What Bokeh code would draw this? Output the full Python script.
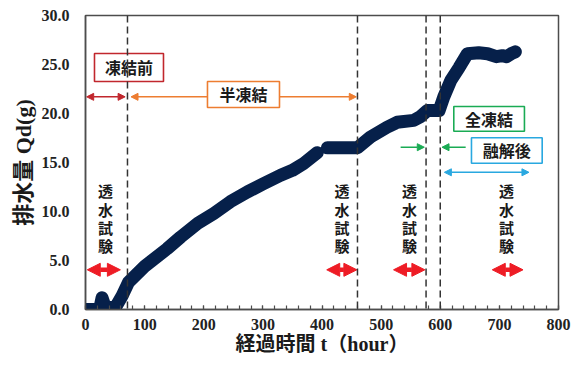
import numpy as np
from bokeh.plotting import figure
from bokeh.models import (Range1d, Label, Arrow, NormalHead, BoxAnnotation, Span,
                          SingleIntervalTicker, NumeralTickFormatter)
from bokeh.embed import file_html
from bokeh.resources import INLINE

nan = np.nan

# Elapsed time t (hour) and drained water Q_d (g); NaN separates the two logging runs
time_h = [0, 15, 24, 28, 33, 45, 52, 62, 73, 100, 138, 161, 190, 217, 245, 274, 300, 330, 350, 369, 392,
          nan,
          409, 435, 460, 482, 510, 527, 555, 567, 578, 598, 606, 618, 632, 646, 665, 680, 695, 705, 712, 720, 727]
drain_g = [0.0, 0.0, 0.05, 1.2, 0.3, 0.2, 0.35, 1.4, 2.8, 4.4, 6.2, 7.4, 8.8, 9.8, 11.0, 12.0, 12.8, 13.7, 14.2, 14.9, 16.0,
           nan,
           16.5, 16.5, 16.5, 17.6, 18.6, 19.1, 19.3, 19.7, 20.3, 20.3, 21.7, 23.4, 24.7, 26.1, 26.2, 26.1, 25.8, 25.9, 25.8, 26.1, 26.3]

# Phase boundaries (hour)
phase_bounds = [71, 460, 576, 600]

# Permeability test windows (hour)
test_start = [3, 408, 521, 688]
test_end = [59, 459, 574, 740]
test_text_x = [34, 434, 548, 712]
test_chars = ["透", "水", "試", "験"]
test_char_y = [12.1, 10.25, 8.4, 6.5]

x_title = "経過時間 t（hour）"
y_title = "排水量 Qd(g)"

NAVY = "#06204a"
SERIF = "Liberation Serif"
CJK = "Noto Sans CJK JP"
MIXED = "Liberation Serif, Noto Sans CJK JP"

p = figure(width=577, height=365, output_backend="svg", toolbar_location=None,
           x_range=Range1d(0, 800), y_range=Range1d(0, 30),
           min_border_left=85, min_border_right=19, min_border_top=15, min_border_bottom=56)
p.background_fill_color = "white"
p.border_fill_color = "white"
p.outline_line_color = "#4d4d4d"
p.outline_line_width = 1.5
p.xgrid.visible = False
p.ygrid.visible = False

# x axis: inward ticks every 20 h
p.xaxis.ticker = SingleIntervalTicker(interval=100, num_minor_ticks=5)
p.xaxis.major_tick_in = 4
p.xaxis.major_tick_out = 0
p.xaxis.minor_tick_in = 4
p.xaxis.minor_tick_out = 0
p.xaxis.major_label_standoff = 9
p.xaxis.axis_label = x_title
p.xaxis.axis_label_standoff = 0
p.xaxis.axis_label_text_font_size = "20px"

p.yaxis.ticker = SingleIntervalTicker(interval=5, num_minor_ticks=0)
p.yaxis.formatter = NumeralTickFormatter(format="0.0")
p.yaxis.major_tick_in = 0
p.yaxis.major_tick_out = 0
p.yaxis.minor_tick_in = 0
p.yaxis.minor_tick_out = 0
p.yaxis.major_label_standoff = 16
p.yaxis.axis_label = y_title
p.yaxis.axis_label_standoff = 3
p.yaxis.axis_label_text_font_size = "22px"

for ax in (p.xaxis, p.yaxis):
    ax.axis_line_color = "#4d4d4d"
    ax.axis_line_width = 1.5
    ax.major_tick_line_color = "#4d4d4d"
    ax.minor_tick_line_color = "#4d4d4d"
    ax.major_tick_line_width = 1.2
    ax.minor_tick_line_width = 1.2
    ax.major_label_text_font = SERIF
    ax.major_label_text_font_style = "bold"
    ax.major_label_text_font_size = "16px"
    ax.major_label_text_color = "#222222"
    ax.axis_label_text_font = MIXED
    ax.axis_label_text_font_style = "bold"
    ax.axis_label_text_color = "#1a1a1a"

# measured drainage
p.line(time_h, drain_g, line_color=NAVY, line_width=13, line_cap="round", line_join="round")

# phase arrows
def dbl_arrow(x0, x1, y, color, width, size):
    p.add_layout(Arrow(x_start=x0, y_start=y, x_end=x1, y_end=y,
                       line_color=color, line_width=width,
                       start=NormalHead(size=size, fill_color=color, line_color=color, line_width=1),
                       end=NormalHead(size=size, fill_color=color, line_color=color, line_width=1)))

def one_arrow(x0, x1, y, color, width, size):
    p.add_layout(Arrow(x_start=x0, y_start=y, x_end=x1, y_end=y,
                       line_color=color, line_width=width,
                       end=NormalHead(size=size, fill_color=color, line_color=color, line_width=1)))

RED = "#c1272d"
ORANGE = "#ed7d31"
GREEN = "#1aab54"
BLUE = "#29a8e0"
TEST_RED = "#ee1c25"

dbl_arrow(2, 67, 21.7, RED, 1.5, 7)
dbl_arrow(77, 458, 21.7, ORANGE, 1.5, 7)
one_arrow(533, 573, 16.56, GREEN, 1.5, 7)
one_arrow(643, 603, 16.56, GREEN, 1.5, 7)
dbl_arrow(607, 750, 14.0, BLUE, 1.5, 7)

for s, e in zip(test_start, test_end):
    dbl_arrow(s, e, 4.05, TEST_RED, 4.5, 13)

# phase name boxes
def tag(text, left, right, bottom, top, color):
    p.add_layout(BoxAnnotation(left=left, right=right, bottom=bottom, top=top,
                               fill_color="white", fill_alpha=1.0,
                               line_color=color, line_width=1.6, line_alpha=1.0))
    p.add_layout(Label(x=(left + right) / 2, y=(bottom + top) / 2, text=text,
                       text_align="center", text_baseline="middle",
                       text_font=CJK, text_font_style="bold", text_font_size="16px",
                       text_color="#1a1a1a"))

tag("凍結前", 15.2, 131.9, 23.27, 26.12, RED)
tag("半凍結", 206.3, 328.1, 20.61, 23.27, ORANGE)
tag("全凍結", 622.9, 742.4, 18.19, 20.71, GREEN)
tag("融解後", 652.8, 772.4, 14.93, 17.52, BLUE)

# "透水試験" stacked vertically above each test window
for tx in test_text_x:
    for ch, cy in zip(test_chars, test_char_y):
        p.add_layout(Label(x=tx, y=cy, text=ch,
                           text_align="center", text_baseline="middle",
                           text_font=CJK, text_font_style="bold", text_font_size="15px",
                           text_color="#1a1a1a"))

# phase boundaries
for b in phase_bounds:
    p.add_layout(Span(location=b, dimension="height", line_color="#333333",
                      line_width=1.5, line_dash="7 4"))

open("out.html", "w").write(file_html(p, INLINE))
